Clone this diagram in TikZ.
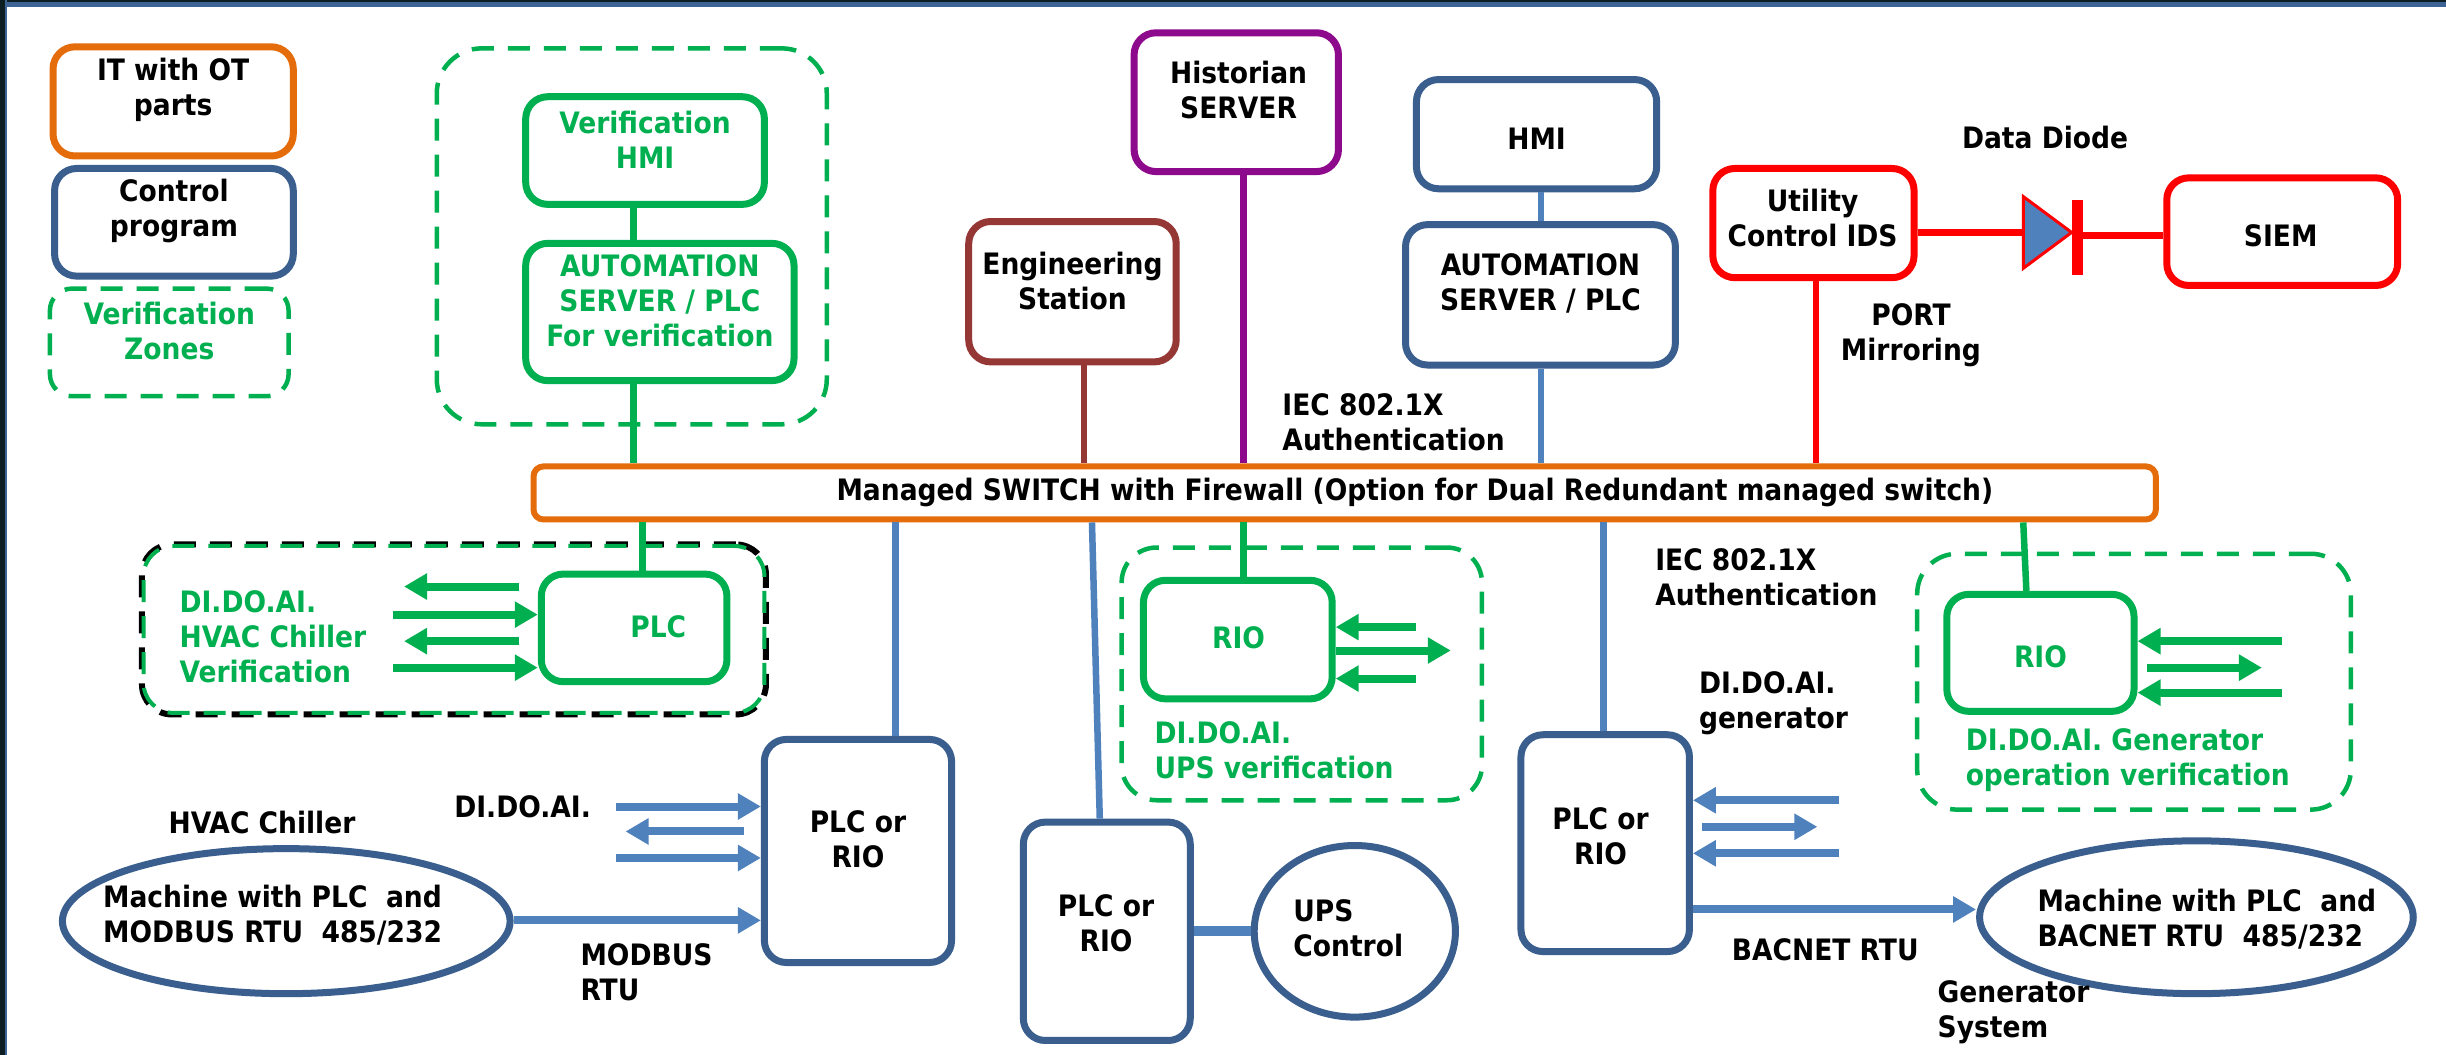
\documentclass[tikz,border=0pt]{standalone}
\usepackage{fontspec}
\setmainfont{DejaVu Sans Condensed Bold}
\usetikzlibrary{arrows.meta,fit,calc,shapes.geometric}
\definecolor{cOr}{HTML}{E46C0A}
\definecolor{cDb}{HTML}{3A5F8F}
\definecolor{cLb}{HTML}{4F81BD}
\definecolor{cGr}{HTML}{00B050}
\definecolor{cPu}{HTML}{8E0A8C}
\definecolor{cBr}{HTML}{953735}
\definecolor{cRd}{HTML}{FF0000}
\definecolor{cEdgeA}{HTML}{0C1E22}
\definecolor{cEdgeB}{HTML}{3E6496}
\begin{document}
\begin{tikzpicture}[x=1.56pt,y=-1.56pt,
  every node/.style={font=\fontsize{29.5}{35}\selectfont},
  bx/.style={draw, line width=7pt, rounded corners=22pt, fill=white, inner sep=0pt, align=center},
  zn/.style={draw=cGr, line width=4.5pt, dash pattern=on 22pt off 14pt, rounded corners=45pt, inner sep=0pt},
  lbl/.style={align=left, anchor=west, inner sep=0pt},
  ln/.style={line width=6.5pt},
  ar/.style={line width=8pt, -{Triangle[length=23pt,width=25pt]}},
]
\useasboundingbox (0,0) rectangle (1568,676);
\fill[white] (0,0) rectangle (1568,676);
\fill[cEdgeB] (0,0) rectangle (1568,4.5);
\fill[cEdgeA] (0,0) rectangle (1568,1.5);
\fill[cEdgeA] (0,0) rectangle (3,676);
\fill[cEdgeB] (3,0) rectangle (4.5,676);

% ---------- zones ----------
\node[zn, fit={(280,31)(530,272)}] (z1) {};
\node[zn, draw=black, line width=6pt, rounded corners=30pt, fit={(91,349)(491,458)}] (z2) {};
\node[zn, line width=4pt, rounded corners=30pt, fit={(92,350)(490,457)}] (z2g) {};
\node[zn, rounded corners=35pt, fit={(719,351)(950,513)}] (z3) {};
\node[zn, rounded corners=40pt, fit={(1229,355)(1507,519)}] (z4) {};

% ---------- legend ----------
\node[bx, draw=cOr, fit={(34,30)(188,100)}] (lgit) {IT with OT\\parts};
\node[bx, draw=cDb, fit={(35,108)(188,177)}] (lgctl) {Control\\program};
\node[zn, rounded corners=22pt, fit={(32,185)(185,254)}, text=cGr, align=center] (lgzn) {Verification\\Zones};

% ---------- top row ----------
\node[bx, draw=cGr, text=cGr, fit={(337,62)(490,131)}] (verhmi) {Verification\\HMI};
\node[bx, draw=cGr, text=cGr, fit={(337,156)(509,244)}] (verauto) {AUTOMATION\\SERVER / PLC\\For verification};
\node[bx, draw=cBr, fit={(621,142)(754,232)}] (eng) {Engineering\\Station};
\node[bx, draw=cPu, fit={(727,21)(858,110)}] (hist) {};
\node[align=center] (histtxt) at (794,58) {Historian\\SERVER};
\node[bx, draw=cDb, fit={(908,51)(1062,121)}] (hmi) {};
\node (hmitxt) at (985,89) {HMI};
\node[bx, draw=cDb, fit={(901,144)(1074,234)}] (auto) {AUTOMATION\\SERVER / PLC};
\node[bx, draw=cRd, fit={(1098,108)(1227,178)}] (ids) {};
\node[align=center] (idstxt) at (1162,140) {Utility\\Control IDS};
\node[bx, draw=cRd, fit={(1389,114)(1537,183)}] (siem) {};
\node (siemtxt) at (1462,151) {SIEM};
\node (dd) at (1311,88) {Data Diode};
\node[align=center] (port) at (1225,215) {PORT\\Mirroring};
\node[lbl] (iec1) at (822,271) {IEC 802.1X\\Authentication};

% switch
\node[bx, draw=cOr, line width=6pt, rounded corners=10pt, fit={(342,299)(1382,333)}] (sw) {};
\node (swtxt) at (907,316) {Managed SWITCH with Firewall (Option for Dual Redundant managed switch)};

% diode
\coordinate (dioL) at (1297,149);
\coordinate (dioR) at (1332,151);
\draw[ln, cRd] (ids.east |- dioL) -- (dioL);
\draw[ln, cRd] (dioR) -- (siem.west |- dioR);
\draw[cRd, fill=cLb, line width=3pt, line join=miter] (1297,126) -- (1297,172) -- (1328,149) -- cycle;
\draw[cRd, line width=11pt] (1332,128) -- (1332,176);

% connector x positions
\coordinate (k406) at (406,0);
\coordinate (k695) at (695,0);
\coordinate (k797) at (797,0);
\coordinate (k988) at (988,0);
\coordinate (k1164) at (1164,0);
\coordinate (k412) at (412,0);
\coordinate (k574) at (574,0);
\coordinate (k700) at (700,0);
\coordinate (k705) at (705,0);
\coordinate (k1028) at (1028,0);
\coordinate (k1297) at (1297,0);
\coordinate (k1299) at (1299,0);

\draw[ln, cGr] (verhmi.south -| k406) -- (verauto.north -| k406);
\draw[ln, cGr] (verauto.south -| k406) -- (sw.north -| k406);
\draw[ln, cBr] (eng.south -| k695) -- (sw.north -| k695);
\draw[ln, cPu] (hist.south -| k797) -- (sw.north -| k797);
\draw[ln, cLb] (hmi.south -| k988) -- (auto.north -| k988);
\draw[ln, cLb] (auto.south -| k988) -- (sw.north -| k988);
\draw[ln, cRd] (ids.south -| k1164) -- (sw.north -| k1164);

% ---------- lower row ----------
\node[bx, draw=cGr, fit={(347,368)(466,437)}] (vplc) {};
\node[text=cGr] (vplctxt) at (422,402) {PLC};
\node[lbl, text=cGr] (hvtxt) at (115,408) {DI.DO.AI.\\HVAC Chiller\\Verification};
\coordinate (va1) at (333,376);
\coordinate (va2) at (252,394);
\coordinate (va3) at (333,411);
\coordinate (va4) at (252,428);
\draw[ar, cGr] (va1) -- (259,376);
\draw[ar, cGr] (va2) -- (vplc.west |- va2);
\draw[ar, cGr] (va3) -- (259,411);
\draw[ar, cGr] (va4) -- (vplc.west |- va4);

\node[bx, draw=cDb, fit={(490,474)(610,617)}] (plcL) {};
\node[align=center] (plcLtxt) at (550,538) {PLC or\\RIO};
\node (dl) at (335,517) {DI.DO.AI.};
\node (hvl) at (168,527) {HVAC Chiller};
\coordinate (ba1) at (395,517);
\coordinate (ba2) at (477,533);
\coordinate (ba3) at (395,550);
\draw[ar, cLb] (ba1) -- (plcL.west |- ba1);
\draw[ar, cLb] (ba2) -- (401,533);
\draw[ar, cLb] (ba3) -- (plcL.west |- ba3);
\node[ellipse, draw=cDb, line width=7pt, fill=white, minimum width=287*1.56pt, minimum height=93*1.56pt, inner sep=0pt] (m1) at (183.5,590.5) {};
\node[lbl] (m1txt) at (66,586.5) {Machine with PLC\ \ and\\MODBUS RTU\ \ 485/232};
\draw[ar, cLb] (m1.east |- 0,590) -- (plcL.west |- 0,590);
\node[lbl] (modbus) at (372,623) {MODBUS\\RTU};

\node[bx, draw=cDb, fit={(656,527)(763,667)}] (plcM) {};
\node[align=center] (plcMtxt) at (709,592) {PLC or\\RIO};
\node[ellipse, draw=cDb, line width=7pt, fill=white, minimum width=129*1.56pt, minimum height=110*1.56pt, inner sep=0pt] (ups) at (868.5,597) {};
\node[lbl] (upstxt) at (829,595) {UPS\\Control};
\draw[cLb, line width=10pt] (plcM.east |- 0,597) -- (ups.west);

\node[bx, draw=cGr, fit={(733,372)(854,448)}] (rio1) {};
\node[text=cGr] (rio1txt) at (794,409) {RIO};
\node[lbl, text=cGr] (r1txt) at (740,481) {DI.DO.AI.\\UPS verification};
\coordinate (ra1) at (908,402);
\coordinate (ra2) at (930,417);
\coordinate (ra3) at (908,435);
\draw[ar, cGr] (ra1) -- (rio1.east |- ra1);
\draw[ar, cGr] (rio1.east |- ra2) -- (ra2);
\draw[ar, cGr] (ra3) -- (rio1.east |- ra3);

\node[bx, draw=cDb, fit={(975,471)(1083,610)}] (plcR) {};
\node[align=center] (plcRtxt) at (1026,536) {PLC or\\RIO};
\node[lbl] (iec2) at (1061,370) {IEC 802.1X\\Authentication};
\node[lbl] (dgen) at (1089,451) {DI.DO.AI.\\generator};
\coordinate (ga1) at (1179,513);
\coordinate (ga2) at (1165,530);
\coordinate (ga3) at (1179,547);
\draw[ar, cLb] (ga1) -- (plcR.east |- ga1);
\draw[ar, cLb] ($(plcR.east |- ga2)+(6,0)$) -- (ga2);
\draw[ar, cLb] (ga3) -- (plcR.east |- ga3);
\node[ellipse, draw=cDb, line width=7pt, fill=white, minimum width=278*1.56pt, minimum height=98*1.56pt, inner sep=0pt] (m2) at (1408,588) {};
\node[lbl] (m2txt) at (1306,589) {Machine with PLC\ \ and\\BACNET RTU\ \ 485/232};
\draw[ar, cLb] (plcR.east |- 0,583) -- (m2.west |- 0,583);
\node (bac) at (1170,609) {BACNET RTU};
\node[lbl] (gens) at (1242,649) {Generator\\System};

\node[bx, draw=cGr, fit={(1248,381)(1368,456)}] (rio2) {};
\node[text=cGr] (rio2txt) at (1308,421) {RIO};
\node[lbl, text=cGr] (r2txt) at (1260,487.5) {DI.DO.AI. Generator\\operation verification};
\coordinate (sa1) at (1463,411);
\coordinate (sa2) at (1450,428);
\coordinate (sa3) at (1463,444);
\draw[ar, cGr] (sa1) -- (rio2.east |- sa1);
\draw[ar, cGr] ($(rio2.east |- sa2)+(6,0)$) -- (sa2);
\draw[ar, cGr] (sa3) -- (rio2.east |- sa3);

% switch drops
\draw[ln, cGr] (sw.south -| k412) -- (vplc.north -| k412);
\draw[ln, cLb] (sw.south -| k574) -- (plcL.north -| k574);
\draw[ln, cLb] (sw.south -| k700) -- (plcM.north -| k705);
\draw[ln, cGr] (sw.south -| k797) -- (rio1.north -| k797);
\draw[ln, cLb] (sw.south -| k1028) -- (plcR.north -| k1028);
\draw[ln, cGr] (sw.south -| k1297) -- (rio2.north -| k1299);
\end{tikzpicture}
\end{document}
